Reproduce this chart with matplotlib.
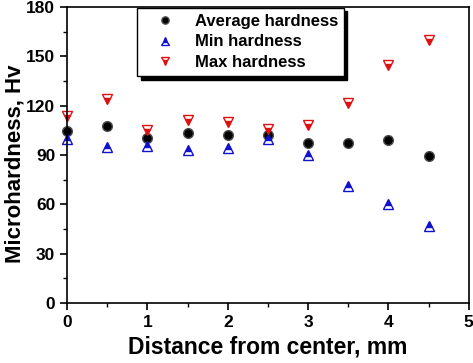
import matplotlib.pyplot as plt
import numpy as np

plt.rcParams['font.family'] = ['Liberation Sans', 'DejaVu Sans']
plt.rcParams['font.weight'] = 'bold'

# distance from center (mm)
dist = [0, 0.5, 1, 1.5, 2, 2.5, 3, 3.5, 4, 4.5]
avg_hard = [104.5, 107.5, 100.5, 103.5, 102, 102, 97, 97.5, 99, 89.5]
min_hard = [100, 95, 95.5, 93, 94, 100, 90, 71, 60, 47]
max_hard = [114, 124, 105, 111, 110, 106, 108, 121.5, 144.5, 160]

f = plt.figure(figsize=(4.73, 3.63), dpi=100)
ax = f.add_axes([0.142, 0.165, 0.849, 0.816])

ax.plot(dist, avg_hard, 'o', color='black', markersize=7, markeredgecolor='0.3',
        linestyle='none', label='Average hardness', clip_on=False)
ax.plot(dist, min_hard, '^', color='#1010d0', markersize=7, fillstyle='top',
        markerfacecoloralt='white', linestyle='none', label='Min hardness', clip_on=False)
ax.plot(dist, max_hard, 'v', color='#e01010', markersize=7, fillstyle='bottom',
        markerfacecoloralt='white', linestyle='none', label='Max hardness', clip_on=False)

ax.set_xlim(0, 5)
ax.set_ylim(0, 180)
ax.set_xticks(np.arange(0, 6, 1))
ax.set_xticks(np.arange(0.5, 5, 1), minor=True)
ax.set_yticks(np.arange(0, 181, 30))
ax.set_yticks(np.arange(15, 180, 30), minor=True)
ax.tick_params(which='major', direction='out', length=5, width=1.2, labelsize=12.5)
ax.tick_params(which='minor', direction='out', length=3, width=1.0)
for lbl in ax.get_xticklabels() + ax.get_yticklabels():
    lbl.set_fontweight('bold')
for s in ax.spines.values():
    s.set_linewidth(1.2)

ax.set_xlabel('Distance from center, mm', fontsize=16.5, fontweight='bold')
ax.set_ylabel('Microhardness, Hv', fontsize=16, fontweight='bold')
ax.yaxis.set_label_coords(-0.104, 0.47)

leg = ax.legend(loc='upper left', bbox_to_anchor=(0.174, 0.997), borderaxespad=0,
                fancybox=False, shadow={'color': 'black', 'alpha': 1.0, 'ox': 2.5, 'oy': -2.5},
                edgecolor='black', framealpha=1, fontsize=12, markerscale=0.75,
                handlelength=2.6, handletextpad=0.5, borderpad=0.35,
                labelspacing=0.35)
leg.get_frame().set_linewidth(1.0)
for t in leg.get_texts():
    t.set_fontweight('bold')

f.savefig('out.png', dpi=100)
